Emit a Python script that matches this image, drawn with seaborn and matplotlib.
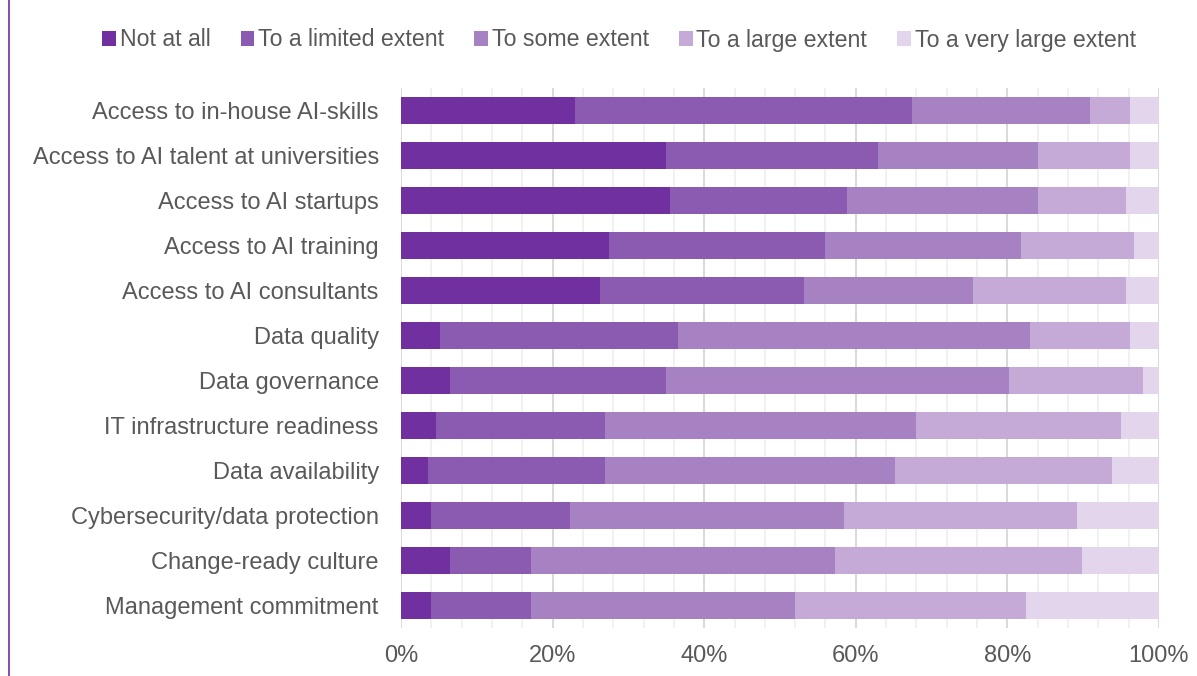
import matplotlib
matplotlib.use("Agg")
import matplotlib.pyplot as plt
from matplotlib.lines import Line2D
from matplotlib.patches import Patch
from matplotlib.ticker import MultipleLocator, PercentFormatter
import numpy as np
import pandas as pd
import seaborn as sns

categories = [
    "Access to in-house AI-skills",
    "Access to AI talent at universities",
    "Access to AI startups",
    "Access to AI training",
    "Access to AI consultants",
    "Data quality",
    "Data governance",
    "IT infrastructure readiness",
    "Data availability",
    "Cybersecurity/data protection",
    "Change-ready culture",
    "Management commitment",
]

levels = ["Not at all", "To a limited extent", "To some extent",
          "To a large extent", "To a very large extent"]

not_at_all = [22.9, 34.9, 35.5, 27.4, 26.2, 5.2, 6.4, 4.6, 3.5, 3.9, 6.4, 3.9]
limited = [44.5, 28.0, 23.4, 28.6, 27.0, 31.4, 28.5, 22.3, 23.4, 18.4, 10.7, 13.2]
some = [23.5, 21.2, 25.2, 25.8, 22.3, 46.4, 45.3, 41.1, 38.3, 36.1, 40.1, 34.9]
large = [5.3, 12.1, 11.5, 14.9, 20.1, 13.2, 17.7, 27.0, 28.6, 30.8, 32.7, 30.4]
very_large = [3.8, 3.8, 4.4, 3.3, 4.4, 3.8, 2.1, 5.0, 6.2, 10.8, 10.1, 17.6]

colors = ["#7030A0", "#8B5BB2", "#A782C3", "#C5AAD8", "#E2D5EC"]

df = pd.DataFrame({"category": categories, levels[0]: not_at_all, levels[1]: limited,
                   levels[2]: some, levels[3]: large, levels[4]: very_large})
cum = df[levels].cumsum(axis=1)

sns.set_theme(style="white")
plt.rcParams["font.family"] = ["Liberation Sans", "DejaVu Sans"]
text_color = "#595959"

fig = plt.figure(figsize=(11.97, 6.76), dpi=100)
ax = fig.add_axes([401 / 1197, 1 - 628 / 676, 758 / 1197, 540 / 676])

# stacked bars: draw cumulative totals from the outermost segment inwards
for level, color in reversed(list(zip(levels, colors))):
    sns.barplot(x=cum[level], y=df["category"], color=color, orient="h",
                width=0.58, saturation=1, ax=ax, zorder=3, linewidth=0)

ax.set_xlim(0, 100)
ax.set_ylim(len(categories) - 0.5, -0.5)
ax.xaxis.set_major_locator(MultipleLocator(20))
ax.xaxis.set_minor_locator(MultipleLocator(4))
ax.xaxis.set_major_formatter(PercentFormatter(decimals=0))
ax.grid(axis="x", which="major", color="#D9D9D9", linewidth=1.4, zorder=0)
ax.grid(axis="x", which="minor", color="#EFEFEF", linewidth=1.2, zorder=0)
ax.set_axisbelow(True)
for s in ax.spines.values():
    s.set_visible(False)
ax.set_xlabel("")
ax.set_ylabel("")
ax.tick_params(axis="both", which="both", length=0, colors=text_color, labelsize=17)
ax.tick_params(axis="x", pad=12)
ax.tick_params(axis="y", pad=16)

handles = [Patch(facecolor=c, edgecolor="none") for c in colors]
fig.legend(handles, levels, loc="center", bbox_to_anchor=(619 / 1197, 1 - 40 / 676),
           ncol=5, frameon=False, fontsize=16.7, labelcolor=text_color,
           handlelength=0.6, handleheight=0.6, handletextpad=0.15, columnspacing=1.3)

fig.add_artist(Line2D([9 / 1197, 9 / 1197], [0, 1], color="#7030A0", linewidth=1.2,
                      transform=fig.transFigure))

fig.savefig("out.png", dpi=100, facecolor="white")
